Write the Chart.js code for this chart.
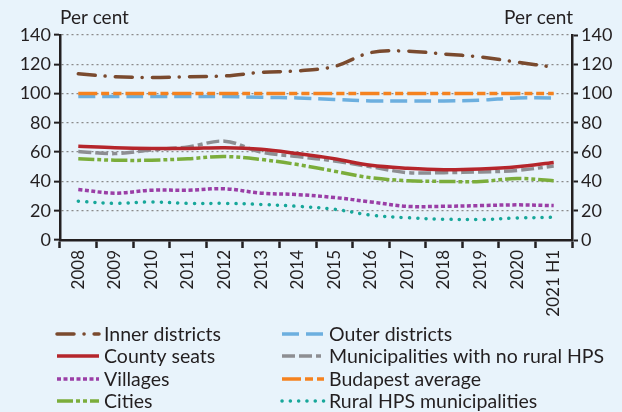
<!DOCTYPE html>
<html>
<head>
<meta charset="utf-8">
<script src="https://cdn.jsdelivr.net/npm/chart.js"></script>
<style>
  html, body { margin: 0; padding: 0; background: #e8f3fb; }
  canvas { display: block; }
</style>
</head>
<body>
<canvas id="chart" width="622" height="412"></canvas>
<script>
const years = ["2008", "2009", "2010", "2011", "2012", "2013", "2014", "2015",
  "2016", "2017", "2018", "2019", "2020", "2021 H1"];
const yTicks = [0, 20, 40, 60, 80, 100, 120, 140];

const innerDistricts = [113.5, 111.5, 111, 111.5, 112, 114.5, 115.5, 118.5, 128, 129, 127, 125, 121.5, 118];
const outerDistricts = [98, 98, 98, 98, 98, 97.5, 97, 96, 95, 95, 95, 95.5, 97, 97];
const countySeats = [64, 63, 62.5, 62.5, 63, 62, 59, 55.5, 51, 49, 48, 48.5, 50, 53];
const noRuralHps = [60.5, 59, 61.5, 63.5, 67.5, 60, 57, 54, 50, 46, 46, 46.5, 47.5, 50.5];
const villages = [34.5, 32, 34, 34, 35, 32, 31, 29, 26, 23, 23, 23.5, 24, 23.5];
const budapestAvg = [100, 100, 100, 100, 100, 100, 100, 100, 100, 100, 100, 100, 100, 100];
const cities = [55.5, 54.5, 54.5, 55.5, 57, 55, 51.5, 47, 42.5, 40.5, 40, 40, 42, 40.5];
const ruralHps = [26.5, 25, 26, 25, 25, 24.3, 23, 21, 17, 15.2, 14.2, 14, 15, 15.5];

const textColor = "#231f20";
Chart.defaults.font.family = "Lato";
Chart.defaults.font.size = 17;
Chart.defaults.color = textColor;

function line(label, data, color, dash, cap, order) {
  return {
    label: label,
    data: data,
    borderColor: color,
    backgroundColor: color,
    borderWidth: 3.5,
    borderDash: dash,
    borderCapStyle: cap,
    pointRadius: 0,
    tension: 0.35,
    fill: false,
    order: order
  };
}

const datasets = [
  line("Inner districts", innerDistricts, "#7a4a2e", [17, 10, 0.1, 10], "round", 1),
  line("Outer districts", outerDistricts, "#6cafdf", [17, 7], "butt", 2),
  line("County seats", countySeats, "#b5252b", [], "butt", 3),
  line("Municipalities with no rural HPS", noRuralHps, "#8d8e92", [13, 4, 13, 4, 5, 4], "butt", 4),
  line("Villages", villages, "#9a3ea6", [4, 2.5], "butt", 5),
  line("Budapest average", budapestAvg, "#f5821f", [19, 4, 8, 4, 8, 4], "butt", 0),
  line("Cities", cities, "#7bad3b", [16, 3, 4, 3, 4, 3], "butt", 6),
  line("Rural HPS municipalities", ruralHps, "#17a79a", [0.1, 8.2], "round", 7)
];

// titles above both y axes and the two-column legend below
const extras = {
  id: "extras",
  afterDraw(chart) {
    const { ctx, chartArea } = chart;
    ctx.save();
    ctx.font = "19px Lato";
    ctx.fillStyle = textColor;
    ctx.textBaseline = "alphabetic";
    ctx.textAlign = "left";
    ctx.fillText("Per cent", 60, 24);
    ctx.textAlign = "right";
    ctx.fillText("Per cent", chartArea.right + 1, 24);

    const colX = [57, 282];
    const rowY = [334, 356, 379, 401];
    ctx.font = "19.5px Lato";
    ctx.textAlign = "left";
    ctx.textBaseline = "middle";
    datasets.forEach((ds, i) => {
      const x = colX[i % 2];
      const y = rowY[Math.floor(i / 2)];
      ctx.beginPath();
      ctx.strokeStyle = ds.borderColor;
      ctx.lineWidth = ds.borderWidth;
      ctx.setLineDash(ds.borderDash);
      ctx.lineCap = ds.borderCapStyle;
      ctx.moveTo(x, y);
      ctx.lineTo(x + 42, y);
      ctx.stroke();
      ctx.setLineDash([]);
      ctx.fillText(ds.label, x + 47, y + 1);
    });
    ctx.restore();
  }
};

new Chart(document.getElementById("chart"), {
  type: "line",
  data: { labels: years, datasets: datasets },
  options: {
    responsive: false,
    animation: false,
    devicePixelRatio: 1,
    layout: { padding: { top: 35, bottom: 87, left: 0, right: 0 } },
    plugins: {
      legend: { display: false },
      tooltip: { enabled: false }
    },
    scales: {
      x: {
        offset: true,
        grid: {
          offset: true,
          drawOnChartArea: false,
          tickLength: 8,
          tickColor: textColor,
          tickWidth: 2.5
        },
        border: { color: textColor, width: 2.5 },
        ticks: { minRotation: 90, maxRotation: 90, padding: 2, autoSkip: false },
        afterFit(scale) { scale.height = 85; }
      },
      y: {
        position: "left",
        min: 0,
        max: 140,
        afterBuildTicks(scale) { scale.ticks = yTicks.map(v => ({ value: v })); },
        grid: {
          color: "#8a8a8a",
          lineWidth: 1.3,
          tickLength: 6,
          tickColor: textColor,
          tickWidth: 2,
          tickBorderDash: []
        },
        border: { color: textColor, width: 2.5, dash: [2, 3] },
        ticks: { padding: 3, font: { size: 18 } },
        afterFit(scale) { scale.width = 60; }
      },
      y2: {
        position: "right",
        min: 0,
        max: 140,
        afterBuildTicks(scale) { scale.ticks = yTicks.map(v => ({ value: v })); },
        grid: {
          drawOnChartArea: false,
          tickLength: 6,
          tickColor: textColor,
          tickWidth: 2
        },
        border: { color: textColor, width: 2.5 },
        ticks: { padding: 3, font: { size: 18 } },
        afterFit(scale) { scale.width = 50; }
      }
    }
  },
  plugins: [extras]
});
</script>
</body>
</html>
